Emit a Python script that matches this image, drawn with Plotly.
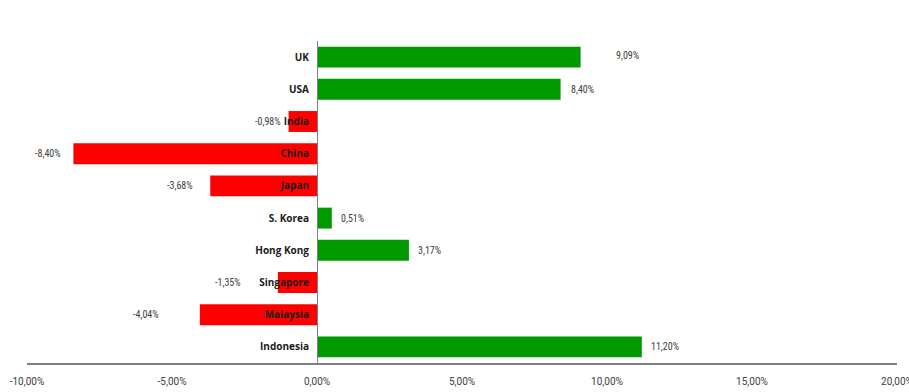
import plotly.graph_objects as go

countries = ["UK", "USA", "India", "China", "Japan", "S. Korea", "Hong Kong", "Singapore", "Malaysia", "Indonesia"]
returns = [9.09, 8.40, -0.98, -8.40, -3.68, 0.51, 3.17, -1.35, -4.04, 11.20]
tick_vals = [-10, -5, 0, 5, 10, 15, 20]
tick_text = ["-10,00%", "-5,00%", "0,00%", "5,00%", "10,00%", "15,00%", "20,00%"]

# manual label nudges (pixels), as in the original chart
label_gap = [33, 8, 6, 10, 15, 7, 7, 35, 39, 7]

GREEN = "#009900"
RED = "#FF0000"
colors = [GREEN if v >= 0 else RED for v in returns]

fig = go.Figure()
fig.add_trace(go.Bar(
    y=countries, x=returns, orientation="h",
    marker=dict(color=colors, line=dict(width=0)),
    width=0.65, hoverinfo="skip",
))

for c, v, g in zip(countries, returns, label_gap):
    txt = f"{v:.2f}%".replace(".", ",")
    fig.add_annotation(
        x=v, y=c, xref="x", yref="y", text=txt, showarrow=False,
        xanchor="left" if v >= 0 else "right",
        xshift=g if v >= 0 else -g,
        yshift=2 if c == "UK" else 0,
        font=dict(family="Liberation Sans Narrow, Roboto Condensed, Arial Narrow, sans-serif", size=10, color="#404040"),
    )

fig.update_layout(
    width=909, height=392,
    margin=dict(l=27, r=12, t=41, b=29, autoexpand=False),
    paper_bgcolor="white", plot_bgcolor="white",
    showlegend=False,
    bargap=0.35,
    xaxis=dict(
        range=[-10, 20], tickvals=tick_vals, ticktext=tick_text,
        showgrid=False, zeroline=False, automargin=False,
        showline=True, linecolor="#808080", linewidth=2,
        ticks="", tickfont=dict(family="Roboto, sans-serif", size=10, color="#404040"),
        ticklabelstandoff=8, ticklabeloverflow="allow",
    ),
    yaxis=dict(
        autorange="reversed", categoryorder="array", categoryarray=countries,
        anchor="free", position=1/3, automargin=False,
        showgrid=False, zeroline=False,
        showline=True, linecolor="#808080", linewidth=1,
        ticks="", ticklabelstandoff=6,
        tickfont=dict(family="Open Sans, sans-serif", size=10, color="#1a1a1a", weight="bold"),
    ),
)

fig.write_html(
    "out.html",
    config={"displayModeBar": False},
    post_script="document.body.style.margin='0';document.body.style.overflow='hidden';",
)
